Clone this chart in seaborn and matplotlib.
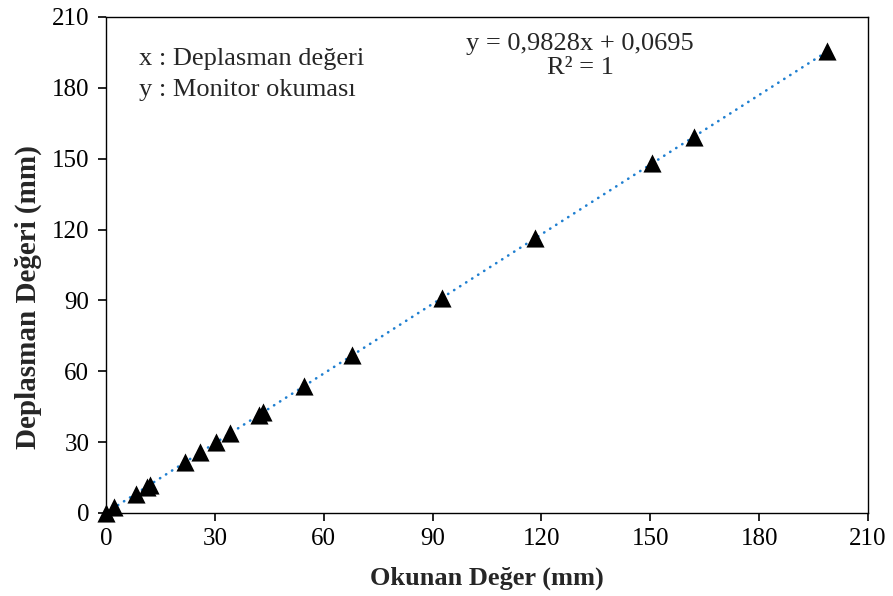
import matplotlib
matplotlib.use("Agg")
import matplotlib.pyplot as plt
import seaborn as sns
import pandas as pd

# values
okunan = [0.0, 2.3, 8.2, 11.3, 12.0, 21.9, 26.0, 30.3, 34.2, 42.3, 43.3,
          54.6, 67.9, 92.6, 118.3, 150.5, 162.0, 198.8]
deplasman = [0.07, 2.33, 8.13, 11.17, 11.86, 21.59, 25.62, 29.85, 33.68, 41.64, 42.63,
             53.73, 66.80, 91.08, 116.34, 147.98, 159.28, 195.45]
ticks = [0, 30, 60, 90, 120, 150, 180, 210]
equation = "y = 0,9828x + 0,0695"
r_squared = "R² = 1"

df = pd.DataFrame({"x": okunan, "y": deplasman})

sns.set_style("ticks", {"axes.edgecolor": "black",
                        "xtick.color": "black", "ytick.color": "black"})
plt.rcParams["font.family"] = ["Liberation Serif", "DejaVu Serif"]

fig = plt.figure(figsize=(8.93, 5.96), dpi=100)
ax = fig.add_axes([0.1187, 0.1393, 0.8533, 0.8322])

# linear trendline (dotted, Excel style)
sns.regplot(data=df, x="x", y="y", ax=ax, scatter=False, ci=None, truncate=True,
            line_kws={"color": "#1f7fd0", "linewidth": 1.9,
                      "linestyle": (0, (0.1, 2.6)), "dash_capstyle": "round"})
sns.scatterplot(data=df, x="x", y="y", ax=ax, marker="^", s=170,
                color="black", edgecolor="black", linewidth=0, zorder=3,
                clip_on=False)

ax.set_xlim(0, 210)
ax.set_ylim(0, 210)
ax.set_xticks(ticks)
ax.set_yticks(ticks)
ax.tick_params(axis="both", which="major", direction="out", labelsize=18,
               length=6, width=1.2, colors="black",
               bottom=True, left=True, top=False, right=False)
ax.tick_params(axis="x", pad=5)
ax.tick_params(axis="y", pad=6)
for s in ax.spines.values():
    s.set_visible(True)
    s.set_color("black")
    s.set_linewidth(1)

ax.set_xlabel("Okunan Değer (mm)", fontsize=19, fontweight="bold", labelpad=12)
ax.set_ylabel("Deplasman Değeri (mm)", fontsize=21, fontweight="bold")
ax.yaxis.set_label_coords(-0.084, 0.435)

ax.text(0.043, 0.915, "x : Deplasman değeri", transform=ax.transAxes,
        fontsize=19, va="center", ha="left")
ax.text(0.043, 0.852, "y : Monitor okuması", transform=ax.transAxes,
        fontsize=19, va="center", ha="left")
ax.text(0.622, 0.945, equation, transform=ax.transAxes,
        fontsize=19, va="center", ha="center")
ax.text(0.622, 0.897, r_squared, transform=ax.transAxes,
        fontsize=19, va="center", ha="center")

fig.savefig("out.png", dpi=100)
